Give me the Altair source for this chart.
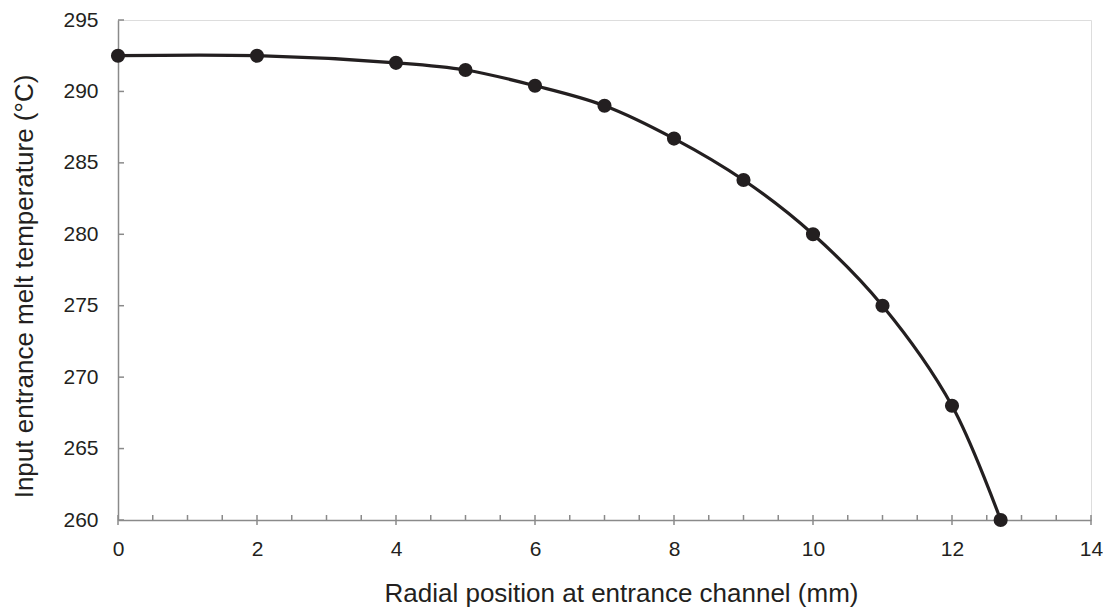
import altair as alt
import pandas as pd

radial_mm = [0, 2, 4, 5, 6, 7, 8, 9, 10, 11, 12, 12.7]
melt_temp_c = [292.5, 292.5, 292.0, 291.5, 290.4, 289.0, 286.7, 283.8, 280.0, 275.0, 268.0, 260.0]
x_major = [0, 2, 4, 6, 8, 10, 12, 14]
x_minor = [0.5 * i for i in range(29) if i % 4 != 0]
y_major = [260, 265, 270, 275, 280, 285, 290, 295]

W, H = 973, 500
AXIS_GREY = "#8a8a8a"
INK = "#231f20"
FONT = "Liberation Sans"

df = pd.DataFrame({"x": radial_mm, "y": melt_temp_c})
xs = alt.Scale(domain=[0, 14], nice=False, zero=False)
ys = alt.Scale(domain=[260, 295], nice=False, zero=False)

xaxis = alt.Axis(values=x_major, format="d", ticks=False, tickSize=0, labelPadding=18, grid=False,
                 labelFlush=False,
                 domainColor=AXIS_GREY, domainWidth=1.5, labelFont=FONT, labelFontSize=21,
                 labelColor=INK, title="Radial position at entrance channel (mm)",
                 titleFont=FONT, titleFontSize=26, titleFontWeight="normal", titleColor=INK,
                 titlePadding=21, titleX=503)
yaxis = alt.Axis(values=y_major, format="d", ticks=False, tickSize=0, labelPadding=20, grid=False,
                 labelFlush=False,
                 domainColor=AXIS_GREY, domainWidth=1.5, labelFont=FONT, labelFontSize=21,
                 labelColor=INK, title="Input entrance melt temperature (°C)",
                 titleFont=FONT, titleFontSize=26, titleFontWeight="normal", titleColor=INK,
                 titlePadding=25, titleY=266)

base = alt.Chart(df)
line = base.mark_line(interpolate="catmull-rom", color=INK, strokeWidth=3.2).encode(
    x=alt.X("x:Q", scale=xs, axis=xaxis),
    y=alt.Y("y:Q", scale=ys, axis=yaxis),
)
pts = base.mark_circle(color=INK, opacity=1, size=200).encode(
    x=alt.X("x:Q", scale=xs), y=alt.Y("y:Q", scale=ys)
)

xmaj = alt.Chart(pd.DataFrame({"v": x_major})).mark_rule(color=AXIS_GREY, strokeWidth=1.5).encode(
    x=alt.X("v:Q", scale=xs), y=alt.value(H - 5), y2=alt.value(H + 5)
)
xmin = alt.Chart(pd.DataFrame({"v": x_minor})).mark_rule(color=AXIS_GREY, strokeWidth=1.5).encode(
    x=alt.X("v:Q", scale=xs), y=alt.value(H - 5), y2=alt.value(H)
)
ymaj = alt.Chart(pd.DataFrame({"v": y_major})).mark_rule(color=AXIS_GREY, strokeWidth=1.5).encode(
    y=alt.Y("v:Q", scale=ys), x=alt.value(0), x2=alt.value(6)
)

chart = alt.layer(xmaj, xmin, ymaj, line, pts).properties(
    width=W, height=H,
    autosize=alt.AutoSizeParams(type="none"),
    padding={"left": 110, "top": 12, "right": 12, "bottom": 87},
).configure_view(stroke=None).configure(background="white")

chart.save("out.html", embed_options={"renderer": "svg", "actions": False})
